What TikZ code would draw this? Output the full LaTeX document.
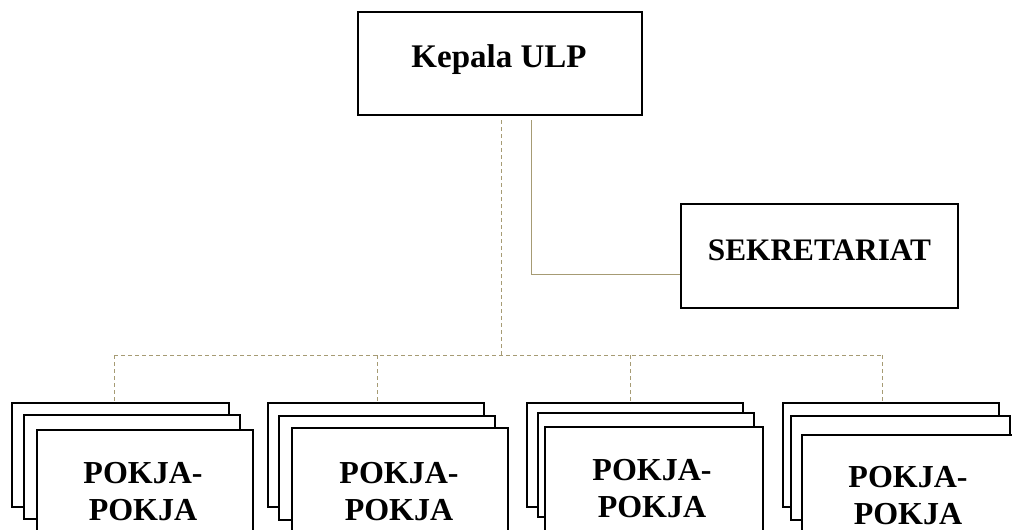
\documentclass[tikz,border=0pt]{standalone}
\usepackage{fontspec}
\setmainfont{Liberation Serif}
\begin{document}
\begin{tikzpicture}[x=1pt,y=-1pt,
  box/.style={draw=black, line width=1.5pt, fill=white, inner sep=0pt},
  lbl/.style={font=\fontsize{32}{37}\selectfont\bfseries, inner sep=0pt, align=center},
  conn/.style={draw=linecol, line width=1pt},
  dconn/.style={draw=linecol, line width=1pt, dash pattern=on 4pt off 3pt}]
\definecolor{linecol}{HTML}{A69B74}
\useasboundingbox (0,0) rectangle (1012,530);
\clip (0,0) rectangle (1012,530);
% top boxes
\node[box, minimum width=284pt, minimum height=103pt] (kepala) at (500,63.5) {};
\node[lbl, anchor=base, font=\fontsize{33}{37}\selectfont\bfseries] (kepalaT) at (499,67) {Kepala ULP};
\node[box, minimum width=277pt, minimum height=104pt] (sekr) at (819.5,256) {};
\node[lbl, anchor=base, font=\fontsize{31.3}{37}\selectfont\bfseries] (sekrT) at (819.5,260) {SEKRETARIAT};
% pokja stacks
\foreach \n/\bx/\by/\bw/\mx/\my/\mw/\fx/\fy/\fw/\tx/\ty in {
  1/11/402/217/23/414/216/36/429/216/143/492,
  2/267/402/216/278/415/216/291/427/216/399/492,
  3/526/402/216/537/412/216/544/426/218/652/489,
  4/782/402/216/790/415/219/801/434/216/908/496}{
  \node[box, anchor=north west, minimum width=\bw pt, minimum height=104pt] (back\n) at (\bx,\by) {};
  \node[box, anchor=north west, minimum width=\mw pt, minimum height=104pt] (mid\n) at (\mx,\my) {};
  \node[box, anchor=north west, minimum width=\fw pt, minimum height=104pt] (front\n) at (\fx,\fy) {};
  \node[lbl] (pokja\n) at (\tx,\ty) {POKJA-\\POKJA};
}
% connector coordinates
\coordinate (k1) at (501,120);
\coordinate (bus) at (501,355);
\coordinate (k2) at (531,120);
\coordinate (bend) at (531,274);
\coordinate (d1) at (114,355);
\coordinate (d2) at (377,355);
\coordinate (d3) at (630,355);
\coordinate (d4) at (882,355);
\draw[dconn] (k1) -- (bus);
\draw[dconn] (d1) -- (d4);
\draw[dconn] (d1) -- (d1 |- back1.north);
\draw[dconn] (d2) -- (d2 |- back2.north);
\draw[dconn] (d3) -- (d3 |- back3.north);
\draw[dconn] (d4) -- (d4 |- back4.north);
\draw[conn] (k2) -- (bend) -- (bend -| sekr.west);
\end{tikzpicture}
\end{document}
